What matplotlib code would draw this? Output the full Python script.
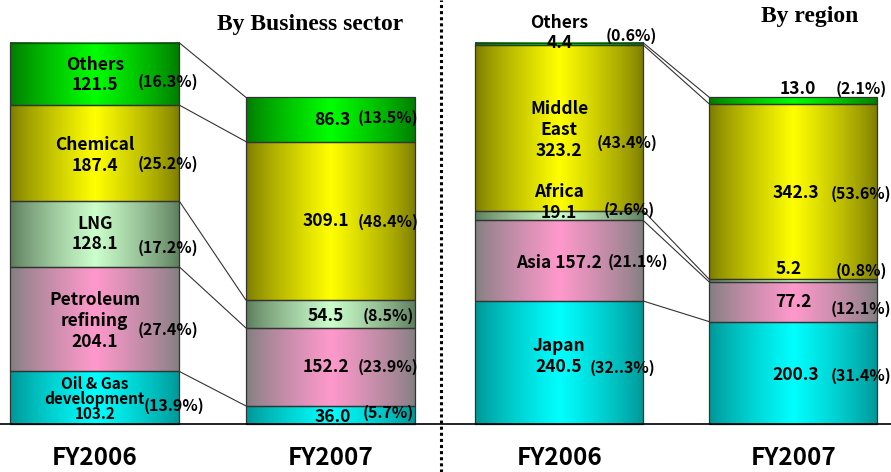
import numpy as np
import matplotlib.pyplot as plt
from matplotlib.colors import to_rgb
from matplotlib.lines import Line2D
from matplotlib.patches import Rectangle

# ---- data (bottom to top) ----
years = ["FY2006", "FY2007"]

sector_names = ["Oil & Gas\ndevelopment\n", "Petroleum\nrefining\n", "LNG\n", "Chemical\n", "Others\n"]
sector_2006 = [103.2, 204.1, 128.1, 187.4, 121.5]
sector_2007 = [36.0, 152.2, 54.5, 309.1, 86.3]
sector_pct_2006 = ["13.9%", "27.4%", "17.2%", "25.2%", "16.3%"]
sector_pct_2007 = ["5.7%", "23.9%", "8.5%", "48.4%", "13.5%"]

region_names = ["Japan\n", "Asia ", "Africa\n", "Middle\nEast\n", "Others\n"]
region_2006 = [240.5, 157.2, 19.1, 323.2, 4.4]
region_2007 = [200.3, 77.2, 5.2, 342.3, 13.0]
region_pct_2006 = ["32..3%", "21.1%", "2.6%", "43.4%", "0.6%"]
region_pct_2007 = ["31.4%", "12.1%", "0.8%", "53.6%", "2.1%"]

# gradient colours (edge, centre) per segment, bottom to top
palette = [("#009494", "#00ffff"),
           ("#7f7f7f", "#ff99cc"),
           ("#5a7a5a", "#ccffcc"),
           ("#7a7a00", "#ffff00"),
           ("#007800", "#00ff00")]

LABEL_FONT = ["Noto Sans CJK JP", "DejaVu Sans"]
PX = 1 / 0.5125          # data units per pixel (vertical)
BAR_W = 0.718


def gradient(edge, centre, n=200):
    t = np.linspace(0, 1, n)
    f = np.clip(1 - np.abs(t - 0.5) / 0.5, 0, 1) ** 0.8
    e, c = np.array(to_rgb(edge)), np.array(to_rgb(centre))
    return (e[None, :] + f[:, None] * (c - e)[None, :])[None, :, :]


def stacked_bar(ax, xc, values):
    bottoms = np.concatenate([[0], np.cumsum(values)[:-1]])
    for v, b, (edge, centre) in zip(values, bottoms, palette):
        x0, x1 = xc - BAR_W / 2, xc + BAR_W / 2
        ax.imshow(gradient(edge, centre), extent=(x0, x1, b, b + v),
                  aspect="auto", interpolation="bilinear", zorder=1)
        ax.add_patch(Rectangle((x0, b), BAR_W, v, fill=False,
                               edgecolor="#333333", lw=0.9, zorder=2))
    return bottoms


def label(ax, x, y, s, dy_px=0, size=12.5, ls=1.2):
    ax.text(x, y + dy_px * PX, s, ha="center", va="center", fontsize=size,
            fontweight="bold", family=LABEL_FONT, zorder=4, linespacing=ls)


def panel(ax, v06, v07, names, pct06, pct07, name_dy, pct06_dx, pct06_dy,
          val07_dx, pct07_dx, val07_dy, pct07_dy, title, title_x, title_y,
          first_ls, first_size):
    b06 = stacked_bar(ax, 0, v06)
    b07 = stacked_bar(ax, 1, v07)
    tops06 = np.cumsum(v06)
    tops07 = np.cumsum(v07)
    # connecting lines between bars
    for t6, t7 in zip(tops06, tops07):
        ax.plot([BAR_W / 2, 1 - BAR_W / 2], [t6, t7], color="#333333",
                lw=0.8, zorder=3)
    for i in range(len(v06)):
        c6 = b06[i] + v06[i] / 2
        c7 = b07[i] + v07[i] / 2
        ls = first_ls if i == 0 else 1.2
        sz = first_size if i == 0 else 12.5
        label(ax, 0, c6, f"{names[i]}{v06[i]:.1f}", name_dy[i], size=sz, ls=ls)
        label(ax, pct06_dx[i], c6, f"({pct06[i]})", pct06_dy[i], size=11.5)
        label(ax, 1 + val07_dx[i], c7, f"{v07[i]:.1f}", val07_dy[i])
        label(ax, 1 + pct07_dx, c7, f"({pct07[i]})", pct07_dy[i], size=11.5)
    ax.axhline(0, color="black", lw=1.2, zorder=3)
    for i, yr in enumerate(years):
        ax.text(i, -66, yr, ha="center", va="center", fontsize=17.5,
                fontweight="bold", family=LABEL_FONT)
    ax.text(title_x, title_y, title, ha="center", va="center", fontsize=17,
            fontweight="bold", family="Liberation Serif")
    ax.set_ylim(-(472 - 424.3) * PX, 424.3 * PX)
    ax.axis("off")


fig = plt.figure(figsize=(8.91, 4.72), dpi=100)
axL = fig.add_axes([0, 0, 441 / 891, 1])
axR = fig.add_axes([441 / 891, 0, 450 / 891, 1])

panel(axL, sector_2006, sector_2007, sector_names, sector_pct_2006, sector_pct_2007,
      name_dy=[-1, -2, 0, -2, -1],
      pct06_dx=[0.335, 0.31, 0.31, 0.31, 0.31], pct06_dy=[-8, -11, -14, -11, -8],
      val07_dx=[0.01, -0.02, -0.02, -0.02, 0.01], pct07_dx=0.245,
      val07_dy=[-2, 0, -2, 0, -1], pct07_dy=[2, 0, -2, -1, 1],
      title="By Business sector", title_x=0.913, title_y=781,
      first_ls=0.95, first_size=11)
axL.set_xlim((0 - 94.7) / 235.7, (441 - 94.7) / 235.7)

panel(axR, region_2006, region_2007, region_names, region_pct_2006, region_pct_2007,
      name_dy=[6, -2, 13, -2, 11],
      pct06_dx=[0.27, 0.335, 0.30, 0.29, 0.31], pct06_dy=[-5, -1, 6, -15, 8],
      val07_dx=[0.01, 0.0, -0.02, 0.01, 0.02], pct07_dx=0.29,
      val07_dy=[-2, 0, 12, -1, 12], pct07_dy=[-3, -7, 10, -2, 12],
      title="By region", title_x=1.071, title_y=795,
      first_ls=1.2, first_size=12.5)
axR.set_xlim((441 - 559.2) / 234.2, (891 - 559.2) / 234.2)

fig.add_artist(Line2D([441 / 891] * 2, [0, 1], color="black", lw=2.2,
                      linestyle=(0, (1, 1)), dash_capstyle="butt"))

fig.savefig("out.png", dpi=100)
